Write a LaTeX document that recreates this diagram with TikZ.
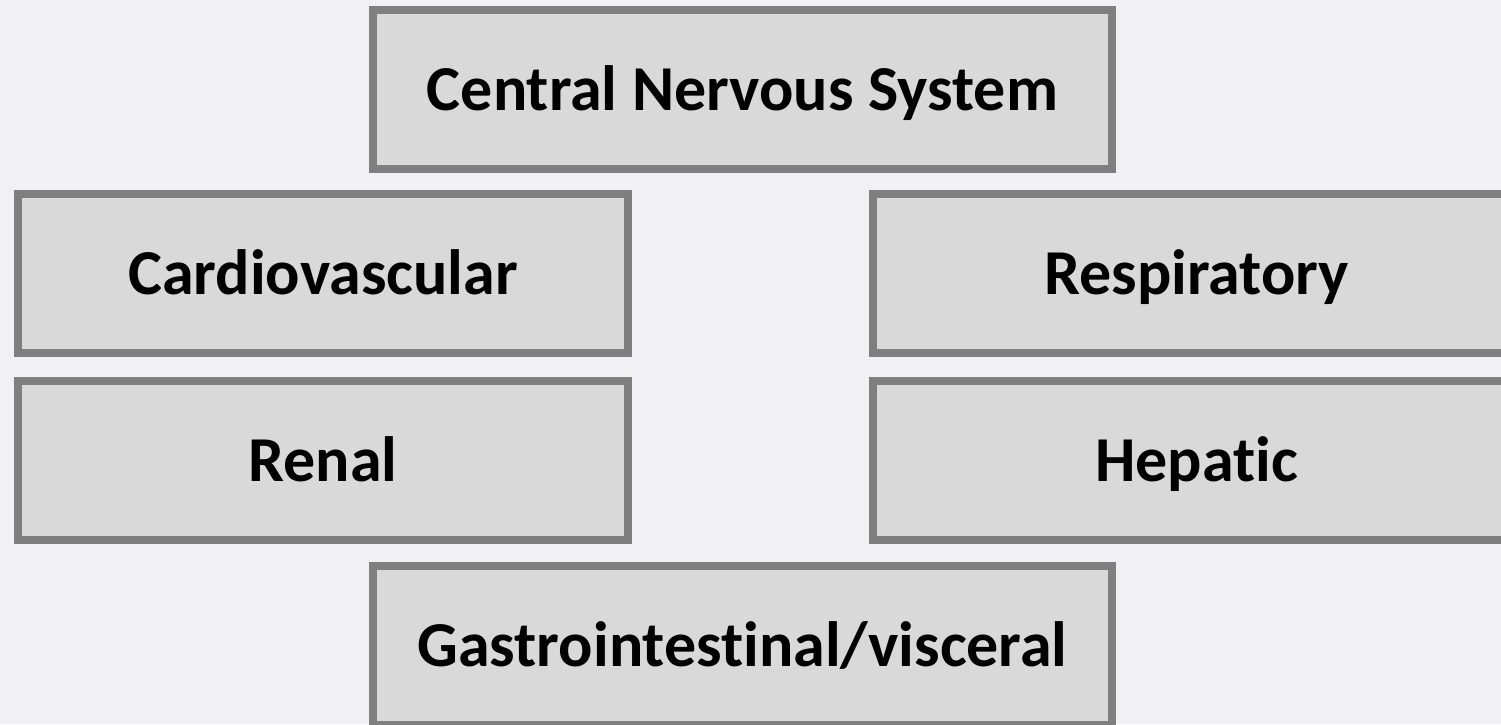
\documentclass[tikz,border=0pt]{standalone}
\usepackage{fontspec}
\setmainfont{Carlito}[Ligatures=NoCommon]
\usepackage{tikz}
\usetikzlibrary{positioning}

\definecolor{bgcol}{HTML}{F1F1F3}
\definecolor{boxfill}{HTML}{D9D9D9}
\definecolor{boxline}{HTML}{7F7F7F}

\begin{document}
\begin{tikzpicture}[
    x=1pt, y=-1pt,
    organ/.style={rectangle, draw=boxline, fill=boxfill, line width=8pt,
                  minimum height=159pt, inner sep=0pt,
                  text height=41pt, text depth=0pt,
                  font=\fontsize{64}{75}\selectfont\bfseries, text=black},
  ]
    \clip (0,0) rectangle (1501,724);
    \fill[bgcol] (0,0) rectangle (1501,724);

    \node[organ, minimum width=739pt] (cns)    at (742.5,89.5)  {Central Nervous System};
    \node[organ, minimum width=610pt] (cardio) at (323,273.5)   {Cardiovascular};
    \node[organ, minimum width=647pt] (resp)   at (1196.5,273.5) {Respiratory};
    \node[organ, minimum width=610pt] (renal)  at (323,460.5)   {Renal};
    \node[organ, minimum width=647pt] (hep)    at (1196.5,460.5) {Hepatic};
    \node[organ, minimum width=739pt] (gi)     at (742.5,645.5) {Gastrointestinal/visceral};
\end{tikzpicture}
\end{document}
